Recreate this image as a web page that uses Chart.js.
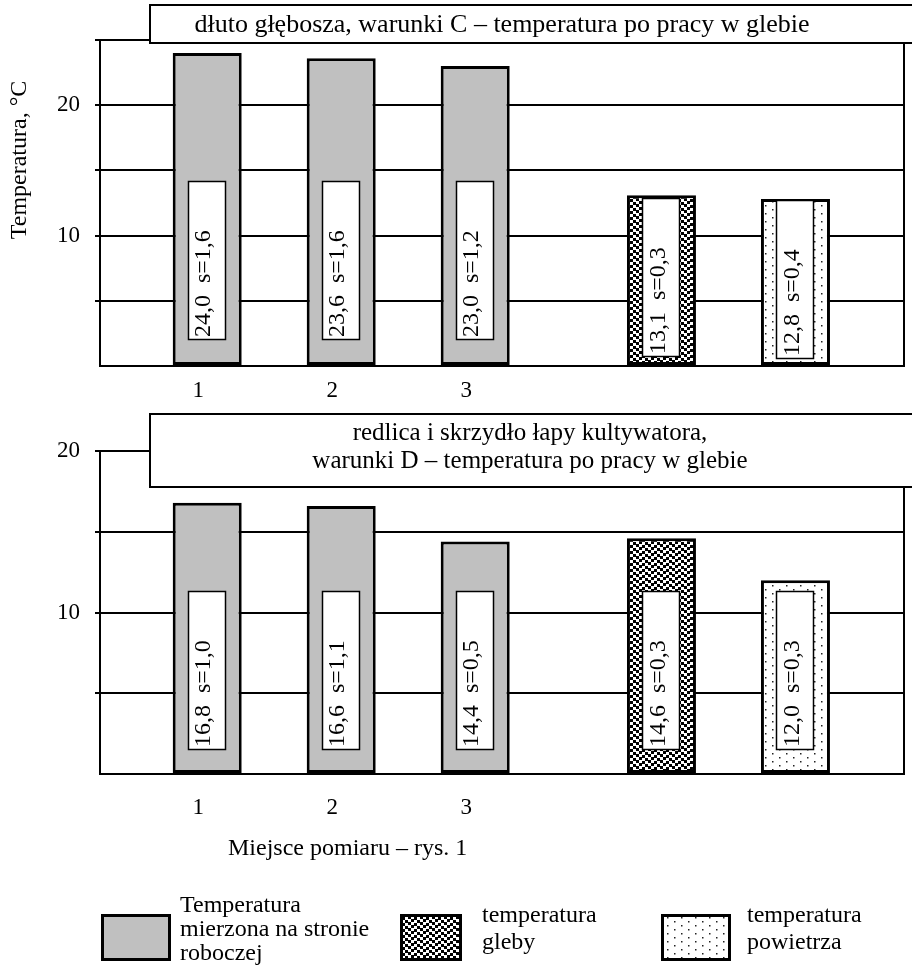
<!DOCTYPE html>
<html><head><meta charset="utf-8">
<script src="https://cdn.jsdelivr.net/npm/chart.js@4.4.1/dist/chart.umd.min.js"></script>
<style>
html,body{margin:0;padding:0;background:#fff;width:912px;height:970px;overflow:hidden}
#wrapA{position:absolute;left:0;top:0;width:912px;height:412px}
#wrapB{position:absolute;left:0;top:400px;width:912px;height:570px}
</style></head><body>
<div id="wrapA"><canvas id="cA"></canvas></div>
<div id="wrapB"><canvas id="cB"></canvas></div>
<script>
// ---- data ----
const tickLabels = ['1', '2', '3'];
const placeX = [1, 2, 3, 4.39, 5.39];
const fillKinds = ['tool', 'tool', 'tool', 'soil', 'air'];
const topValues = [24.0, 23.6, 23.0, 13.1, 12.8];
const topSd = [1.6, 1.6, 1.2, 0.3, 0.4];
const bottomValues = [16.8, 16.6, 14.4, 14.6, 12.0];
const bottomSd = [1.0, 1.1, 0.5, 0.3, 0.3];
const yLabeledTicks = [10, 20];
const topTitle = ['dłuto głębosza, warunki C – temperatura po pracy w glebie'];
const bottomTitle = ['redlica i skrzydło łapy kultywatora,', 'warunki D – temperatura po pracy w glebie'];
const yAxisTitle = 'Temperatura, °C';
const xAxisTitle = 'Miejsce pomiaru – rys. 1';
const legendKinds = ['tool', 'soil', 'air'];
const legendLabels = [['Temperatura', 'mierzona na stronie', 'roboczej'], ['temperatura', 'gleby'], ['temperatura', 'powietrza']];

// ---- styling ----
const FONT = '"Liberation Serif", "Times New Roman", serif';
Chart.defaults.font.family = FONT;
Chart.defaults.font.size = 23;
Chart.defaults.color = '#000';

function soilPattern() {
  const N = 12;
  const c = document.createElement('canvas'); c.width = N; c.height = N;
  const g = c.getContext('2d');
  g.fillStyle = '#fff'; g.fillRect(0, 0, N, N);
  g.fillStyle = '#000';
  [[0,0],[6,1],[3,3],[9,4],[0,6],[6,7],[3,9],[9,10]].forEach(([x,y]) => {
    [0, -N].forEach(dx => [0, -N].forEach(dy => g.fillRect(x + dx, y + dy, 3, 3)));
  });
  return g.createPattern(c, 'repeat');
}
function airPattern() {
  const c = document.createElement('canvas'); c.width = 14; c.height = 8;
  const g = c.getContext('2d');
  g.fillStyle = '#fff'; g.fillRect(0, 0, 14, 8);
  g.fillStyle = '#222';
  g.fillRect(2, 1, 1.5, 1.5); g.fillRect(9, 5, 1.5, 1.5);
  return g.createPattern(c, 'repeat');
}
const PAT = { tool: '#c0c0c0', soil: soilPattern(), air: airPattern() };
const fmt = v => v.toFixed(1).replace('.', ',');

const decor = {
  id: 'decor',
  afterDatasetsDraw(chart, args, o) {
    const ctx = chart.ctx, ys = chart.scales.y, meta = chart.getDatasetMeta(0);
    meta.data.forEach((bar, i) => {
      const [lo, hi] = o.boxes[i];
      const yT = Math.round(ys.getPixelForValue(hi)), yB = Math.round(ys.getPixelForValue(lo));
      const x0 = Math.round(bar.x - 19);
      ctx.save();
      ctx.fillStyle = '#fff'; ctx.fillRect(x0, yT, 38, yB - yT);
      ctx.strokeStyle = '#000'; ctx.lineWidth = 1.5; ctx.strokeRect(x0 + 0.5, yT + 0.5, 37, yB - yT - 1);
      ctx.translate(bar.x - 3, yB - 3);
      ctx.rotate(-Math.PI / 2);
      ctx.font = '24px ' + FONT; ctx.fillStyle = '#000';
      ctx.textAlign = 'left'; ctx.textBaseline = 'middle';
      ctx.fillText(o.texts[i], 0, 0);
      ctx.restore();
    });
  },
  afterDraw(chart, args, o) {
    const ctx = chart.ctx, a = chart.chartArea;
    ctx.save();
    ctx.strokeStyle = '#000'; ctx.lineWidth = 2;
    ctx.beginPath(); ctx.moveTo(a.right, a.top); ctx.lineTo(a.right, a.bottom + 1); ctx.stroke();
    const t = o.title;
    ctx.fillStyle = '#fff'; ctx.fillRect(t.x, t.y, t.w, t.h);
    ctx.lineWidth = 2; ctx.strokeRect(t.x, t.y, t.w, t.h);
    ctx.fillStyle = '#000'; ctx.font = t.size + 'px ' + FONT; ctx.textAlign = 'center'; ctx.textBaseline = 'middle';
    t.lines.forEach((l, i) => ctx.fillText(l, t.cx, t.cy + i * t.lh));
    ctx.font = '24px ' + FONT;
    if (o.yTitle) {
      ctx.save(); ctx.translate(o.yTitle.x, o.yTitle.y); ctx.rotate(-Math.PI / 2);
      ctx.fillText(o.yTitle.text, 0, 0); ctx.restore();
    }
    if (o.xTitle) {
      ctx.textAlign = 'left';
      ctx.fillText(o.xTitle.text, o.xTitle.x, o.xTitle.y);
    }
    if (o.legend) {
      o.legend.forEach(it => {
        ctx.fillStyle = PAT[it.kind]; ctx.fillRect(it.bx, it.by, it.bw, it.bh);
        ctx.strokeStyle = '#000'; ctx.lineWidth = 3; ctx.strokeRect(it.bx + 1.5, it.by + 1.5, it.bw - 3, it.bh - 3);
        ctx.fillStyle = '#000'; ctx.textAlign = 'left'; ctx.textBaseline = 'middle';
        it.lines.forEach((l, i) => ctx.fillText(l, it.tx, it.ty + i * it.lh));
      });
    }
    ctx.restore();
  }
};

function makeChart(id, values, sd, ymax, padTop, padBottom, xh, tickPad, boxes, extra) {
  return new Chart(document.getElementById(id), {
    type: 'bar',
    data: {
      datasets: [{
        data: values.map((v, i) => ({ x: placeX[i], y: v })),
        backgroundColor: fillKinds.map(k => PAT[k]),
        borderColor: '#000', borderWidth: 3, borderSkipped: false,
        barPercentage: 0.515, categoryPercentage: 1
      }]
    },
    options: {
      responsive: true, maintainAspectRatio: false, animation: false,
      layout: { padding: { left: 0, right: 8, top: padTop, bottom: padBottom } },
      plugins: { legend: { display: false }, tooltip: { enabled: false },
        decor: Object.assign({ boxes, texts: values.map((v, i) => fmt(v) + '  s=' + fmt(sd[i])) }, extra) },
      scales: {
        x: { type: 'linear', min: 0.2, max: 6.2, offset: false,
          grid: { display: false }, border: { display: false },
          afterBuildTicks: s => { s.ticks = tickLabels.map((t, i) => ({ value: i + 1 })); },
          ticks: { callback: (v, i) => tickLabels[i], labelOffset: -9, padding: tickPad, autoSkip: false, maxRotation: 0 },
          afterFit: s => { s.height = xh; } },
        y: { min: 0, max: ymax,
          ticks: { stepSize: 5, padding: 15, callback: v => yLabeledTicks.includes(v) ? String(v) : '' },
          grid: { color: '#000', lineWidth: 2, tickLength: 5, tickColor: c => (c.tick && c.tick.value === 0) ? 'rgba(0,0,0,0)' : '#000' },
          border: { display: true, color: '#000', width: 2 },
          afterFit: s => { s.width = 100; } }
      }
    },
    plugins: [decor]
  });
}

makeChart('cA', topValues, topSd, 25, 40, 0, 46, 3,
  [[2.0, 14.2], [2.0, 14.2], [2.0, 14.2], [0.7, 12.85], [0.55, 12.7]],
  { title: { x: 150, y: 5, w: 780, h: 38, lines: topTitle, cx: 502, cy: 25, lh: 0, size: 26 },
    yTitle: { text: yAxisTitle, x: 20, y: 160 } });

const B = 400;
makeChart('cB', bottomValues, bottomSd, 20, 51, 146, 50, 12,
  [[1.5, 11.35], [1.5, 11.35], [1.5, 11.35], [1.5, 11.35], [1.5, 11.35]],
  { title: { x: 150, y: 414 - B, w: 780, h: 73, lines: bottomTitle, cx: 530, cy: 433 - B, lh: 28, size: 25 },
    xTitle: { text: xAxisTitle, x: 228, y: 849 - B },
    legend: [
      { kind: legendKinds[0], lines: legendLabels[0], bx: 101, by: 914 - B, bw: 70, bh: 47, tx: 180, ty: 906 - B, lh: 24 },
      { kind: legendKinds[1], lines: legendLabels[1], bx: 400, by: 914 - B, bw: 62, bh: 47, tx: 482, ty: 916 - B, lh: 27 },
      { kind: legendKinds[2], lines: legendLabels[2], bx: 661, by: 914 - B, bw: 70, bh: 47, tx: 747, ty: 916 - B, lh: 27 }
    ] });
</script>
</body></html>
